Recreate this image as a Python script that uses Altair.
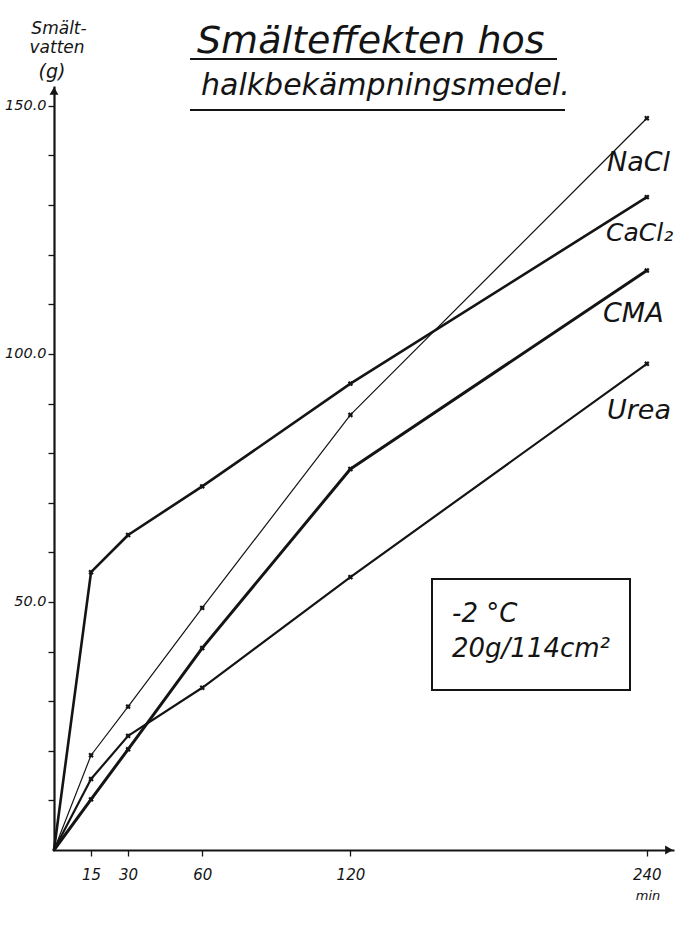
import altair as alt
import pandas as pd

# ---- data ----
times = [0, 15, 30, 60, 120, 240]
nacl = [0, 19.1, 28.9, 48.8, 87.7, 147.5]
cacl2 = [0, 56.0, 63.5, 73.3, 94.0, 131.6]
cma = [0, 10.2, 20.3, 40.7, 76.8, 116.8]
urea = [0, 14.3, 23.0, 32.7, 55.0, 98.0]
series_names = ["NaCl", "CaCl2", "CMA", "Urea"]
series_widths = [1.2, 2.6, 3.0, 2.2]
x_ticks = [15, 30, 60, 120, 240]
y_ticks = list(range(10, 151, 10))

rows = []
for name, vals in zip(series_names, [nacl, cacl2, cma, urea]):
    for t, v in zip(times, vals):
        rows.append({"series": name, "time": t, "value": v})
df = pd.DataFrame(rows)

FONT = "DejaVu Sans"
INK = "#141414"
W, H = 620, 764

xscale = alt.Scale(domain=[0, 251], nice=False, zero=True)
yscale = alt.Scale(domain=[0, 154], nice=False, zero=True)

xaxis = alt.Axis(values=x_ticks, grid=False, domainColor=INK, domainWidth=2,
                 tickColor=INK, tickWidth=1.3, tickSize=6, labelFont=FONT,
                 labelFontSize=15, labelFontStyle="italic", labelColor=INK,
                 labelPadding=11)
yaxis = alt.Axis(values=y_ticks, grid=False, domainColor=INK, domainWidth=2.2,
                 tickColor=INK, tickWidth=1.3, tickSize=6, labelFont=FONT,
                 labelFontSize=14.5, labelFontStyle="italic", labelColor=INK,
                 labelPadding=2,
                 labelExpr="datum.value % 50 == 0 ? format(datum.value, '.1f') : ''")

X = alt.X("time:Q", scale=xscale, title=None, axis=xaxis)
Y = alt.Y("value:Q", scale=yscale, title=None, axis=yaxis)

base = alt.Chart(df)

line_layers = []
for name, w in zip(series_names, series_widths):
    line_layers.append(
        base.transform_filter(alt.datum.series == name)
        .mark_line(color=INK, strokeWidth=w, strokeCap="round", strokeJoin="round")
        .encode(x=X, y=Y, order="time:Q")
    )

points = base.transform_filter("datum.time > 0").mark_point(
    shape="cross", angle=45, size=30, filled=True, color=INK, opacity=1
).encode(x=X, y=Y)

one = alt.Chart(pd.DataFrame({"k": [0]}))

def txt(text, x, y, size, align="left", baseline="alphabetic"):
    return one.mark_text(text=text, font=FONT, fontSize=size, fontStyle="italic",
                         color=INK, align=align, baseline=baseline).encode(
        x=alt.value(x), y=alt.value(y))

def rule(x1, x2, y1, y2, w=1.8):
    return one.mark_rule(color=INK, strokeWidth=w).encode(
        x=alt.value(x1), x2=alt.value(x2), y=alt.value(y1), y2=alt.value(y2))

arrow_up = one.mark_point(shape="triangle-up", size=80, filled=True, color=INK, opacity=1).encode(
    x=alt.value(0), y=alt.value(5))
arrow_right = one.mark_point(shape="triangle-right", size=80, filled=True, color=INK, opacity=1).encode(
    x=alt.value(W - 5), y=alt.value(H))

# series labels
labels = [
    txt("NaCl", 553, 77, 27, baseline="middle"),
    txt("CaCl\u2082", 552, 147, 25, baseline="middle"),
    txt("CMA", 549, 228, 27, baseline="middle"),
    txt("Urea", 553, 325, 27, baseline="middle"),
]

# title
title = [
    txt("Smälteffekten hos", 143, -33, 38),
    rule(136, 503, -27, -27),
    txt("halkbekämpningsmedel.", 147, 9, 30),
    rule(136, 511, 24, 24),
]

# y axis title
ytitle = [
    txt("Smält-", 5, -57, 17, align="center", baseline="middle"),
    txt("vatten", 3, -38, 17, align="center", baseline="middle"),
    txt("(g)", -2, -14, 19, align="center", baseline="middle"),
]

xunit = txt("min", 594, 810, 13, align="center", baseline="middle")

box = one.mark_rect(fill="white", stroke=INK, strokeWidth=2).encode(
    x=alt.value(378), x2=alt.value(576), y=alt.value(493), y2=alt.value(604))
box_text = [
    txt("-2 °C", 398, 536, 26),
    txt("20g/114cm²", 398, 571, 26),
]

chart = alt.layer(
    *line_layers, points, arrow_up, arrow_right, *labels, *title, *ytitle, xunit, box, *box_text
).properties(
    width=W, height=H,
    autosize=alt.AutoSizeParams(type="none"),
    padding={"left": 54, "top": 86, "right": 1, "bottom": 82},
    background="white",
).configure_view(stroke=None)

chart.save("out.html", embed_options={"renderer": "svg", "actions": False})
